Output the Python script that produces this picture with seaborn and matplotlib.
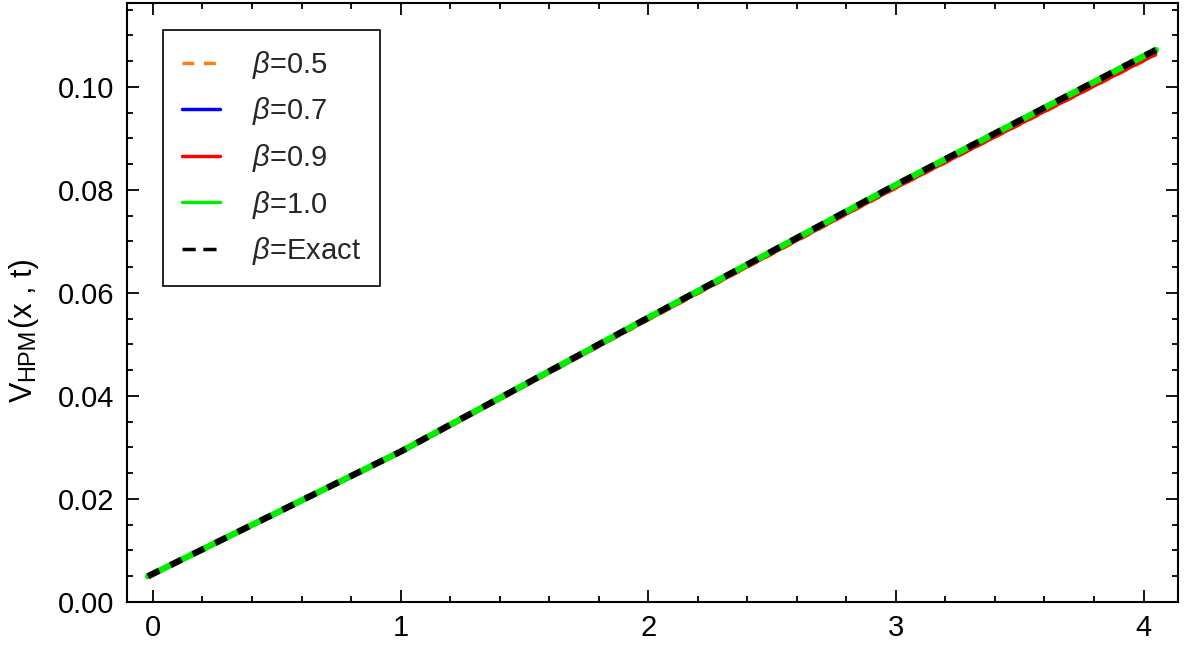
import numpy as np
import pandas as pd
import matplotlib
matplotlib.use("Agg")
import matplotlib.pyplot as plt
import seaborn as sns
from matplotlib.ticker import MultipleLocator
from matplotlib.transforms import offset_copy

# values
x = [-0.02, 1.0, 2.0, 3.0, 4.05]
v_05 = [0.0048, 0.0289, 0.0547, 0.0803, 0.1062]
v_07 = [0.0049, 0.0290, 0.0549, 0.0806, 0.1066]
v_09 = [0.0048, 0.0289, 0.0548, 0.0804, 0.1063]
v_10 = [0.0050, 0.0292, 0.0552, 0.0810, 0.1072]
v_exact = [0.0050, 0.0292, 0.0552, 0.0810, 0.1072]
labels = [r"$\beta$=0.5", r"$\beta$=0.7", r"$\beta$=0.9", r"$\beta$=1.0", r"$\beta$=Exact"]

sns.set_theme(style="ticks")
plt.rcParams["font.family"] = ["Liberation Sans", "DejaVu Sans"]
plt.rcParams["mathtext.fontset"] = "custom"
plt.rcParams["mathtext.rm"] = "Liberation Sans"
plt.rcParams["mathtext.it"] = "Liberation Sans:italic"

fig = plt.figure(figsize=(12.01, 6.51), dpi=100)
ax = fig.add_axes([0.1057, 0.0753, 0.8753, 0.9201])

sns.lineplot(x=x, y=v_05, ax=ax, color="#ff7f0e", linestyle=(0, (3.5, 3)), lw=2.2, label=labels[0])
sns.lineplot(x=x, y=v_07, ax=ax, color="#0000ff", lw=2.2, label=labels[1])
sns.lineplot(x=x, y=v_09, ax=ax, color="#ff0000", lw=2.2, label=labels[2])
sns.lineplot(x=x, y=v_10, ax=ax, color="#00ee00", lw=4.5, label=labels[3])
sns.lineplot(x=x, y=v_exact, ax=ax, color="black", linestyle=(0, (2.0, 2.0)), lw=4.5, label=labels[4])

ax.set_xlim(-0.105, 4.14)
ax.set_ylim(0, 0.1163)
ax.xaxis.set_major_locator(MultipleLocator(1))
ax.xaxis.set_minor_locator(MultipleLocator(0.2))
ax.yaxis.set_major_locator(MultipleLocator(0.02))
ax.yaxis.set_minor_locator(MultipleLocator(0.005))
ax.yaxis.set_major_formatter(matplotlib.ticker.FormatStrFormatter("%.2f"))
ax.tick_params(which="both", direction="in", top=True, right=True, width=1.3, colors="black")
ax.tick_params(which="major", length=8.5, labelsize=21, pad=9)
ax.tick_params(which="minor", length=4.5)
for s in ax.spines.values():
    s.set_linewidth(1.5)
    s.set_color("black")

ax.set_xlabel("")
ax.set_ylabel("")

# y label built from pieces so the subscript keeps its size
renderer = fig.canvas.get_renderer()
pieces = [("V", 22, 0), ("HPM", 17, 2), ("(x , t)", 22, 0)]
y_px = 651 - 402
for txt, size, drop in pieces:
    t = fig.text(32 / 1201 + drop / 1201, y_px / 651, txt, fontsize=size, rotation=90,
                 rotation_mode="anchor", ha="left", va="baseline", color="black")
    bb = t.get_window_extent(renderer)
    y_px += bb.height + 0.5

leg = ax.legend(loc="upper left", bbox_to_anchor=(0.034, 0.955), fontsize=21,
                frameon=True, fancybox=False, edgecolor="black", framealpha=1,
                handlelength=1.3, handletextpad=1.1, labelspacing=0.5, borderpad=0.65,
                borderaxespad=0)
leg.get_frame().set_linewidth(1.2)
for h in leg.get_lines():
    h.set_linewidth(2.5)
hl = leg.get_lines()
hl[0].set_dashes((3.4, 2.8))
hl[4].set_dashes((3.8, 2.2))

fig.savefig("out.png", dpi=100)
